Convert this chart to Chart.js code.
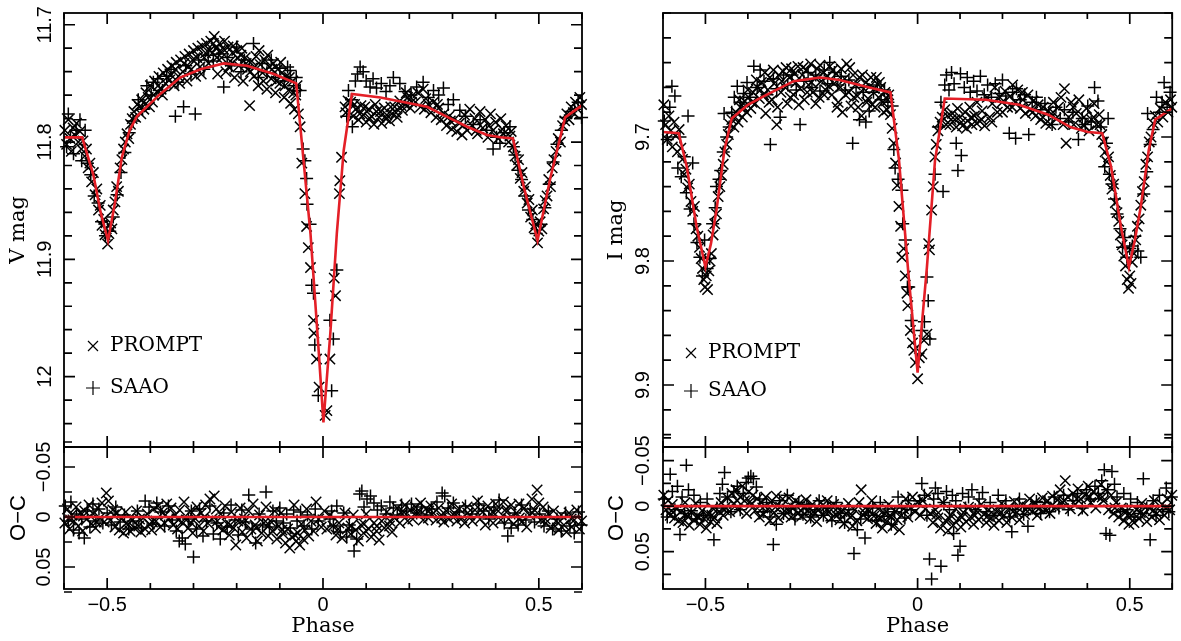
<!DOCTYPE html>
<html>
<head>
<meta charset="utf-8">
<script src="https://cdn.jsdelivr.net/npm/chart.js@4.4.1/dist/chart.umd.min.js"></script>
<style>
  body { margin: 0; background: #fff; }
  canvas { position: absolute; left: 0; top: 0; }
</style>
</head>
<body>
<canvas id="vMain" width="1181" height="641"></canvas>
<canvas id="vRes" width="1181" height="641"></canvas>
<canvas id="iMain" width="1181" height="641"></canvas>
<canvas id="iRes" width="1181" height="641"></canvas>
<script>
// ---- tick values / labels ----
const phaseTicks = [-0.6, -0.5, -0.4, -0.3, -0.2, -0.1, 0, 0.1, 0.2, 0.3, 0.4, 0.5, 0.6];
const phaseLabels = [-0.5, 0, 0.5];
const vMagTicks = [11.70, 11.72, 11.74, 11.76, 11.78, 11.80, 11.82, 11.84, 11.86, 11.88, 11.90, 11.92, 11.94, 11.96, 11.98, 12.00, 12.02, 12.04, 12.06];
const vMagLabels = [11.7, 11.8, 11.9, 12];
const iMagTicks = [9.60, 9.62, 9.64, 9.66, 9.68, 9.70, 9.72, 9.74, 9.76, 9.78, 9.80, 9.82, 9.84, 9.86, 9.88, 9.90, 9.92, 9.94];
const iMagLabels = [9.7, 9.8, 9.9];
const resTicks = [-0.075, -0.05, -0.025, 0, 0.025, 0.05, 0.075];
const resLabels = [-0.05, 0, 0.05];

// ---- V band ----
const vModel = [[-0.6,11.796],[-0.558,11.796],[-0.532,11.828],[-0.515,11.860],[-0.498,11.884],[-0.482,11.852],[-0.466,11.813],[-0.448,11.790],[-0.431,11.778],[-0.377,11.759],[-0.331,11.745],[-0.284,11.738],[-0.230,11.733],[-0.176,11.735],[-0.114,11.742],[-0.062,11.750],[-0.029,11.878],[-0.010,11.978],[0.001,12.039],[0.017,11.963],[0.032,11.878],[0.048,11.807],[0.067,11.759],[0.133,11.762],[0.241,11.770],[0.290,11.779],[0.334,11.787],[0.380,11.794],[0.411,11.796],[0.440,11.797],[0.465,11.838],[0.497,11.884],[0.527,11.830],[0.561,11.779],[0.599,11.769]];

const vPrompt = [[-0.598,11.790],[-0.594,11.802],[-0.590,11.781],[-0.586,11.797],[-0.583,11.808],[-0.579,11.788],[-0.575,11.794],[-0.571,11.784],[-0.567,11.800],[-0.563,11.791],[-0.560,11.806],
[-0.556,11.799],[-0.552,11.812],[-0.548,11.806],[-0.544,11.822],[-0.540,11.818],[-0.536,11.834],[-0.532,11.826],[-0.528,11.845],[-0.524,11.840],[-0.520,11.858],[-0.516,11.854],[-0.512,11.871],[-0.508,11.866],[-0.505,11.879],[-0.502,11.874],[-0.499,11.887],[-0.496,11.878],
[-0.492,11.869],[-0.489,11.874],[-0.486,11.858],[-0.482,11.851],[-0.478,11.838],[-0.474,11.842],[-0.470,11.822],[-0.466,11.815],[-0.462,11.806],[-0.458,11.800],[-0.454,11.793],[-0.450,11.797],[-0.446,11.785],[-0.442,11.780],[-0.438,11.774],[-0.434,11.779],[-0.430,11.768],
[-0.425,11.770],[-0.420,11.764],[-0.415,11.772],[-0.410,11.758],[-0.405,11.762],[-0.400,11.752],[-0.395,11.766],[-0.390,11.748],[-0.385,11.757],[-0.380,11.744],[-0.375,11.755],[-0.370,11.741],[-0.365,11.750],[-0.360,11.738],[-0.355,11.747],[-0.350,11.735],[-0.345,11.752],[-0.340,11.732],[-0.335,11.744],[-0.330,11.730],[-0.325,11.740],[-0.320,11.727],[-0.315,11.748],[-0.310,11.725],[-0.305,11.738],[-0.300,11.722],[-0.295,11.744],[-0.290,11.720],[-0.285,11.736],[-0.280,11.718],[-0.275,11.728],[-0.270,11.716],[-0.265,11.733],[-0.260,11.714],[-0.256,11.724],[-0.252,11.710],[-0.248,11.720],[-0.244,11.742],[-0.240,11.716],[-0.235,11.728],[-0.230,11.721],[-0.225,11.740],[-0.220,11.719],[-0.215,11.731],[-0.210,11.724],[-0.205,11.745],[-0.200,11.722],[-0.195,11.735],[-0.190,11.726],[-0.185,11.748],[-0.180,11.728],[-0.175,11.738],[-0.170,11.769],[-0.165,11.731],[-0.160,11.744],[-0.155,11.727],[-0.150,11.752],[-0.145,11.734],[-0.140,11.741],[-0.135,11.730],[-0.130,11.755],[-0.125,11.736],[-0.120,11.746],[-0.115,11.733],[-0.110,11.758],[-0.105,11.738],[-0.100,11.750],[-0.095,11.741],[-0.090,11.762],[-0.085,11.744],[-0.080,11.756],[-0.075,11.767],[-0.070,11.748],[-0.066,11.772],[-0.063,11.760],
[-0.422,11.776],[-0.412,11.768],[-0.402,11.770],[-0.392,11.760],[-0.382,11.752],[-0.372,11.760],[-0.362,11.745],[-0.352,11.743],[-0.342,11.738],[-0.332,11.750],[-0.322,11.733],[-0.312,11.736],[-0.302,11.730],[-0.292,11.728],[-0.282,11.742],[-0.272,11.724],[-0.262,11.722],[-0.254,11.716],[-0.246,11.728],[-0.238,11.722],[-0.228,11.714],[-0.218,11.736],[-0.208,11.718],[-0.198,11.728],[-0.188,11.720],[-0.178,11.733],[-0.168,11.740],[-0.158,11.736],[-0.148,11.722],[-0.138,11.748],[-0.128,11.726],[-0.118,11.738],[-0.108,11.748],[-0.098,11.732],[-0.088,11.752],[-0.078,11.745],[-0.068,11.758],[-0.060,11.752],
[-0.057,11.776],[-0.053,11.787],[-0.049,11.818],[-0.042,11.844],[-0.038,11.872],[-0.034,11.890],[-0.029,11.907],[-0.022,11.952],[-0.021,11.963],[-0.015,11.985],[-0.009,12.009],[0.005,12.033],[0.009,12.029],[0.016,11.985],[0.026,11.916],[0.029,11.931],[0.038,11.844],[0.039,11.833],[0.043,11.813],[0.051,11.770],[0.053,11.775],[0.058,11.765],
[0.064,11.766],[0.070,11.778],[0.076,11.772],[0.082,11.781],[0.088,11.769],[0.094,11.777],[0.100,11.783],[0.106,11.772],[0.112,11.778],[0.118,11.785],[0.124,11.774],[0.130,11.779],[0.136,11.784],[0.142,11.771],[0.148,11.777],[0.154,11.782],[0.160,11.776],[0.166,11.770],[0.172,11.779],[0.178,11.765],[0.184,11.773],[0.190,11.768],[0.196,11.762],[0.202,11.771],[0.208,11.760],[0.214,11.766],[0.220,11.758],[0.226,11.770],[0.232,11.755],[0.238,11.763],[0.244,11.768],[0.250,11.775],[0.256,11.766],[0.262,11.779],[0.268,11.771],[0.274,11.781],[0.280,11.776],[0.286,11.786],[0.292,11.778],[0.298,11.789],[0.304,11.781],[0.310,11.791],[0.316,11.784],[0.322,11.794],[0.328,11.777],[0.334,11.790],[0.340,11.772],[0.346,11.786],[0.352,11.780],[0.358,11.793],[0.364,11.774],[0.370,11.788],[0.376,11.781],[0.382,11.796],[0.388,11.776],[0.394,11.790],[0.400,11.783],[0.406,11.797],[0.412,11.780],[0.418,11.793],[0.424,11.786],[0.430,11.800],[0.436,11.791],
[0.073,11.768],[0.085,11.776],[0.097,11.770],[0.109,11.780],[0.121,11.768],[0.133,11.774],[0.145,11.780],[0.157,11.770],[0.169,11.775],[0.181,11.769],[0.193,11.758],[0.205,11.766],[0.235,11.772],[0.265,11.768],[0.295,11.782],[0.325,11.786],[0.355,11.790],[0.385,11.786],[0.415,11.789],[0.433,11.795],
[0.441,11.804],[0.445,11.812],[0.449,11.820],[0.453,11.815],[0.457,11.831],[0.461,11.826],[0.465,11.842],[0.469,11.838],[0.473,11.852],[0.477,11.849],[0.481,11.864],[0.485,11.858],[0.489,11.873],[0.493,11.870],[0.497,11.886],[0.500,11.876],[0.503,11.868],[0.507,11.874],[0.511,11.857],[0.515,11.850],[0.519,11.846],[0.523,11.832],[0.527,11.838],[0.531,11.822],[0.535,11.815],[0.540,11.808],[0.545,11.797],[0.550,11.800],[0.555,11.786],[0.560,11.782],
[0.565,11.776],[0.570,11.781],[0.575,11.770],[0.580,11.775],[0.585,11.766],[0.590,11.772],[0.595,11.762],[0.599,11.768]];

const vSaao = [[-0.594,11.804],[-0.590,11.776],[-0.585,11.796],[-0.578,11.810],[-0.572,11.790],[-0.563,11.781],[-0.559,11.816],[-0.551,11.790],[-0.546,11.818],[-0.538,11.828],[-0.530,11.846],[-0.521,11.852],[-0.513,11.868],[-0.504,11.880],[-0.494,11.876],[-0.486,11.864],[-0.477,11.845],[-0.468,11.826],[-0.459,11.809],[-0.449,11.792],[-0.440,11.782],[-0.428,11.764],[-0.418,11.772],[-0.408,11.752],[-0.398,11.760],[-0.393,11.749],[-0.383,11.746],[-0.372,11.756],[-0.362,11.744],[-0.352,11.738],[-0.342,11.778],[-0.336,11.749],[-0.323,11.770],[-0.318,11.735],[-0.306,11.742],[-0.296,11.776],[-0.288,11.730],[-0.276,11.738],[-0.266,11.726],[-0.254,11.731],[-0.242,11.725],[-0.230,11.753],[-0.222,11.728],[-0.212,11.735],[-0.200,11.719],[-0.190,11.740],[-0.182,11.730],[-0.170,11.736],[-0.161,11.716],[-0.150,11.745],[-0.141,11.733],[-0.130,11.741],[-0.120,11.730],[-0.110,11.745],[-0.100,11.737],[-0.090,11.748],[-0.082,11.736],[-0.076,11.739],[-0.068,11.752],[-0.062,11.745],[-0.053,11.756],[-0.046,11.806],[-0.042,11.816],[-0.038,11.831],[-0.037,11.853],[-0.030,11.870],[-0.026,11.922],[-0.022,11.929],[-0.019,11.973],[-0.011,12.016],[0.016,11.952],[0.020,12.012],[0.024,11.968],[0.032,11.909],[0.055,11.778],[0.059,11.756],[0.066,11.764],[0.068,11.787],[0.075,11.748],[0.080,11.742],[0.086,11.736],[0.093,11.740],[0.100,11.748],[0.109,11.753],[0.116,11.746],[0.124,11.754],[0.135,11.750],[0.146,11.757],[0.155,11.752],[0.163,11.745],[0.178,11.750],[0.190,11.757],[0.204,11.760],[0.217,11.753],[0.232,11.749],[0.244,11.762],[0.256,11.756],[0.268,11.760],[0.279,11.754],[0.290,11.768],[0.302,11.764],[0.317,11.773],[0.330,11.778],[0.348,11.785],[0.364,11.781],[0.379,11.790],[0.394,11.806],[0.402,11.796],[0.410,11.801],[0.420,11.792],[0.433,11.787],[0.441,11.804],[0.445,11.811],[0.452,11.824],[0.460,11.832],[0.468,11.846],[0.476,11.858],[0.486,11.866],[0.494,11.878],[0.505,11.870],[0.514,11.856],[0.524,11.836],[0.533,11.817],[0.542,11.802],[0.552,11.790],[0.563,11.779],[0.574,11.774],[0.583,11.772],[0.591,11.766],[0.599,11.779]];

const vResPrompt = [[-0.598,0.006],[-0.592,-0.008],[-0.587,0.012],[-0.582,-0.002],[-0.577,0.004],[-0.572,-0.010],[-0.567,0.009],[-0.562,-0.004],[-0.557,0.014],[-0.552,-0.006],[-0.547,0.002],[-0.542,-0.012],[-0.537,0.007],[-0.532,-0.003],[-0.527,0.011],[-0.522,-0.009],[-0.517,0.001],[-0.512,-0.014],[-0.507,0.005],[-0.502,-0.024],[-0.497,-0.016],[-0.492,0.003],[-0.487,-0.007],[-0.482,0.010],[-0.477,-0.004],[-0.472,0.013],[-0.467,0.002],[-0.462,0.016],[-0.457,-0.005],[-0.452,0.008],[-0.447,0.014],[-0.442,0.003],[-0.437,0.011],[-0.432,-0.006],[-0.427,0.009],[-0.422,0.015],[-0.417,0.001],[-0.412,0.012],[-0.407,-0.003],[-0.402,0.007],[-0.397,0.013],[-0.392,-0.008],[-0.387,0.004],[-0.382,-0.011],[-0.377,0.010],[-0.372,-0.004],[-0.367,0.006],[-0.362,-0.013],[-0.357,0.002],[-0.352,-0.009],[-0.347,0.008],[-0.342,-0.002],[-0.337,0.012],[-0.332,-0.007],[-0.327,0.005],[-0.322,-0.015],[-0.317,0.003],[-0.312,0.011],[-0.307,-0.006],[-0.302,0.016],[-0.297,0.001],[-0.292,-0.010],[-0.287,0.009],[-0.282,-0.004],[-0.277,0.014],[-0.272,-0.012],[-0.267,0.006],[-0.262,-0.018],[-0.257,0.002],[-0.252,-0.021],[-0.247,-0.008],[-0.242,0.010],[-0.237,-0.003],[-0.232,0.013],[-0.227,-0.011],[-0.222,0.007],[-0.217,0.018],[-0.212,-0.005],[-0.207,0.011],[-0.202,0.028],[-0.197,0.004],[-0.192,-0.009],[-0.187,0.015],[-0.182,0.002],[-0.177,0.021],[-0.172,-0.006],[-0.167,0.012],[-0.162,-0.013],[-0.157,0.008],[-0.152,0.024],[-0.147,-0.002],[-0.142,0.016],[-0.137,0.006],[-0.132,-0.010],[-0.127,0.019],[-0.122,0.004],[-0.117,0.014],[-0.112,-0.006],[-0.107,0.022],[-0.102,0.009],[-0.097,-0.004],[-0.092,0.017],[-0.087,0.026],[-0.082,0.012],[-0.077,0.031],[-0.072,0.020],[-0.067,-0.012],[-0.062,0.024],[-0.058,0.016],[-0.054,0.028],[-0.050,0.007],[-0.046,0.022],[-0.042,0.013],[-0.038,-0.008],[-0.033,0.019],[-0.028,0.004],[-0.022,0.014],[-0.016,-0.015],[-0.010,0.002],[-0.004,0.010],[0.003,-0.006],[0.009,0.012],[0.016,-0.002],[0.023,0.009],[0.030,0.018],[0.037,0.006],[0.044,0.021],[0.051,-0.004],[0.058,0.011],[0.064,0.017],[0.070,-0.002],[0.076,0.013],[0.082,0.024],[0.088,0.008],[0.094,0.016],[0.100,-0.003],[0.106,0.012],[0.112,0.020],[0.118,0.006],[0.124,0.014],[0.130,0.023],[0.136,0.004],[0.142,0.011],[0.148,-0.005],[0.154,0.009],[0.160,0.015],[0.166,0.001],[0.172,-0.009],[0.178,0.006],[0.184,-0.003],[0.190,-0.012],[0.196,0.004],[0.202,-0.007],[0.208,0.002],[0.214,-0.010],[0.220,-0.004],[0.226,-0.014],[0.232,0.003],[0.238,-0.008],[0.244,0.001],[0.250,-0.011],[0.256,-0.004],[0.262,0.003],[0.268,-0.009],[0.274,-0.002],[0.280,0.005],[0.286,-0.006],[0.292,0.002],[0.298,-0.013],[0.304,-0.004],[0.310,0.004],[0.316,-0.008],[0.322,0.001],[0.328,0.006],[0.334,-0.010],[0.340,-0.002],[0.346,0.004],[0.352,-0.007],[0.358,-0.016],[0.364,0.002],[0.370,-0.005],[0.376,0.008],[0.382,-0.011],[0.388,-0.003],[0.394,0.006],[0.400,-0.013],[0.406,-0.006],[0.412,0.003],[0.418,-0.015],[0.424,-0.008],[0.430,0.002],[0.436,-0.012],[0.442,0.007],[0.448,-0.004],[0.454,-0.013],[0.460,0.005],[0.466,-0.009],[0.472,0.010],[0.478,-0.002],[0.484,-0.018],[0.490,-0.007],[0.496,-0.027],[0.500,-0.014],[0.504,0.003],[0.510,-0.010],[0.516,0.006],[0.522,-0.003],[0.528,0.011],[0.534,-0.006],[0.540,0.004],[0.546,0.013],[0.552,-0.002],[0.558,0.008],[0.564,0.015],[0.570,-0.004],[0.576,0.010],[0.582,0.003],[0.588,-0.007],[0.594,0.012],[0.599,0.004],
[-0.585,0.003],[-0.555,-0.001],[-0.525,0.005],[-0.485,-0.002],[-0.455,0.006],[-0.425,0.002],[-0.395,0.005],[-0.365,-0.002],[-0.335,0.003],[-0.305,0.006],[-0.275,0.000],[-0.245,0.004],[-0.215,0.008],[-0.185,0.006],[-0.155,0.011],[-0.125,0.008],[-0.095,0.013],[-0.065,0.018],[0.035,0.012],[0.065,0.009],[0.095,0.007],[0.125,0.009],[0.155,0.004],[0.185,-0.006],[0.215,-0.004],[0.245,-0.006],[0.275,0.001],[0.305,-0.001],[0.335,-0.004],[0.365,-0.007],[0.395,-0.004],[0.425,-0.005],[0.455,0.001],[0.485,-0.004],[0.515,0.002],[0.545,0.006],[0.575,0.002]];

const vResSaao = [[-0.597,-0.011],[-0.590,0.004],[-0.584,-0.015],[-0.578,0.013],[-0.571,-0.003],[-0.565,0.016],[-0.559,0.002],[-0.553,0.021],[-0.546,-0.006],[-0.540,0.010],[-0.533,-0.013],[-0.526,0.004],[-0.519,-0.008],[-0.510,0.006],[-0.500,-0.004],[-0.490,0.008],[-0.480,-0.010],[-0.470,0.005],[-0.460,-0.002],[-0.450,0.012],[-0.440,0.004],[-0.430,-0.006],[-0.421,0.011],[-0.412,-0.016],[-0.403,-0.010],[-0.394,0.007],[-0.385,-0.014],[-0.376,-0.005],[-0.367,0.009],[-0.358,-0.011],[-0.349,0.003],[-0.340,0.014],[-0.333,0.024],[-0.326,0.021],[-0.319,0.027],[-0.312,0.002],[-0.305,-0.006],[-0.300,0.040],[-0.293,0.012],[-0.286,-0.008],[-0.278,0.019],[-0.270,0.004],[-0.262,-0.011],[-0.254,0.017],[-0.246,0.006],[-0.238,0.022],[-0.230,-0.004],[-0.222,0.010],[-0.213,-0.012],[-0.204,0.003],[-0.196,0.018],[-0.188,-0.007],[-0.180,0.005],[-0.172,-0.022],[-0.164,0.012],[-0.156,0.026],[-0.148,-0.003],[-0.140,0.008],[-0.132,-0.025],[-0.124,0.010],[-0.116,-0.006],[-0.108,0.004],[-0.100,-0.009],[-0.092,0.006],[-0.084,-0.003],[-0.076,0.011],[-0.068,-0.007],[-0.060,0.004],[-0.052,-0.005],[-0.044,0.009],[-0.036,-0.002],[-0.026,0.012],[-0.018,-0.008],[-0.011,0.004],[0.016,0.002],[0.020,-0.006],[0.024,0.009],[0.032,-0.011],[0.040,0.015],[0.048,-0.004],[0.055,0.020],[0.061,0.008],[0.067,0.013],[0.072,0.034],[0.078,0.022],[0.085,-0.023],[0.090,-0.026],[0.095,-0.010],[0.102,-0.018],[0.110,-0.021],[0.118,-0.014],[0.126,-0.007],[0.135,-0.011],[0.146,-0.003],[0.155,-0.015],[0.163,-0.009],[0.172,-0.002],[0.182,-0.012],[0.193,-0.006],[0.205,-0.013],[0.217,-0.004],[0.228,-0.010],[0.240,-0.002],[0.252,-0.008],[0.264,-0.015],[0.276,-0.024],[0.282,-0.021],[0.290,-0.009],[0.302,-0.014],[0.316,-0.005],[0.330,-0.011],[0.345,-0.003],[0.360,-0.013],[0.372,-0.006],[0.384,0.002],[0.396,-0.010],[0.408,-0.017],[0.420,0.006],[0.428,0.019],[0.436,0.011],[0.444,-0.004],[0.452,0.008],[0.460,-0.012],[0.470,0.003],[0.480,-0.008],[0.490,0.005],[0.502,-0.003],[0.512,0.009],[0.522,-0.006],[0.532,0.012],[0.542,0.002],[0.552,0.014],[0.562,-0.004],[0.572,0.009],[0.582,0.016],[0.592,-0.005],[0.598,0.008]];

// ---- I band ----
const iModel = [[-0.6,9.696],[-0.563,9.697],[-0.544,9.724],[-0.521,9.772],[-0.500,9.805],[-0.487,9.786],[-0.474,9.759],[-0.455,9.710],[-0.438,9.685],[-0.400,9.674],[-0.362,9.667],[-0.292,9.655],[-0.230,9.652],[-0.184,9.654],[-0.114,9.660],[-0.064,9.664],[-0.044,9.718],[-0.021,9.813],[0.000,9.890],[0.022,9.805],[0.041,9.719],[0.064,9.669],[0.161,9.670],[0.239,9.674],[0.308,9.682],[0.360,9.692],[0.401,9.696],[0.435,9.697],[0.456,9.724],[0.479,9.772],[0.498,9.805],[0.512,9.783],[0.526,9.756],[0.545,9.710],[0.560,9.686],[0.599,9.677]];

const iPrompt = [[-0.598,9.674],[-0.594,9.690],[-0.590,9.702],[-0.586,9.683],[-0.582,9.695],[-0.578,9.708],[-0.574,9.688],[-0.570,9.699],[-0.566,9.712],[-0.562,9.694],[-0.558,9.709],[-0.554,9.718],[-0.550,9.730],[-0.546,9.726],[-0.542,9.741],[-0.538,9.738],[-0.534,9.752],[-0.530,9.760],[-0.526,9.756],[-0.522,9.774],[-0.518,9.780],[-0.514,9.789],[-0.510,9.798],[-0.507,9.806],[-0.504,9.815],[-0.501,9.821],[-0.498,9.812],[-0.495,9.823],[-0.492,9.808],[-0.489,9.800],[-0.486,9.794],[-0.482,9.779],[-0.478,9.770],[-0.474,9.762],[-0.470,9.748],[-0.466,9.740],[-0.462,9.731],[-0.458,9.722],[-0.454,9.712],[-0.450,9.706],[-0.446,9.698],[-0.442,9.690],[-0.438,9.686],[-0.433,9.692],[-0.428,9.680],[-0.423,9.688],[-0.418,9.676],[-0.413,9.684],[-0.408,9.671],[-0.403,9.680],[-0.398,9.668],[-0.393,9.677],[-0.388,9.664],[-0.383,9.673],[-0.378,9.660],[-0.373,9.669],[-0.368,9.656],[-0.363,9.666],[-0.358,9.681],[-0.353,9.662],[-0.348,9.652],[-0.343,9.670],[-0.338,9.657],[-0.332,9.690],[-0.327,9.650],[-0.322,9.664],[-0.317,9.647],[-0.312,9.660],[-0.307,9.673],[-0.302,9.652],[-0.297,9.645],[-0.292,9.666],[-0.287,9.656],[-0.282,9.643],[-0.277,9.661],[-0.272,9.650],[-0.267,9.670],[-0.262,9.646],[-0.257,9.658],[-0.252,9.641],[-0.247,9.664],[-0.242,9.652],[-0.237,9.645],[-0.232,9.668],[-0.227,9.655],[-0.222,9.648],[-0.217,9.662],[-0.212,9.651],[-0.207,9.643],[-0.202,9.666],[-0.197,9.657],[-0.192,9.649],[-0.187,9.672],[-0.182,9.660],[-0.177,9.680],[-0.172,9.653],[-0.167,9.641],[-0.162,9.664],[-0.157,9.675],[-0.152,9.650],[-0.147,9.658],[-0.142,9.667],[-0.137,9.652],[-0.132,9.683],[-0.127,9.661],[-0.122,9.656],[-0.117,9.669],[-0.112,9.659],[-0.107,9.674],[-0.102,9.661],[-0.097,9.652],[-0.092,9.668],[-0.087,9.660],[-0.082,9.672],[-0.077,9.664],[-0.072,9.678],[-0.068,9.666],[-0.064,9.682],
[-0.430,9.684],[-0.420,9.670],[-0.410,9.676],[-0.400,9.662],[-0.390,9.672],[-0.380,9.654],[-0.370,9.662],[-0.360,9.648],[-0.350,9.672],[-0.340,9.646],[-0.330,9.676],[-0.320,9.655],[-0.310,9.644],[-0.300,9.668],[-0.290,9.649],[-0.280,9.674],[-0.270,9.644],[-0.260,9.664],[-0.250,9.656],[-0.240,9.673],[-0.230,9.642],[-0.220,9.666],[-0.210,9.659],[-0.200,9.646],[-0.190,9.676],[-0.180,9.645],[-0.170,9.666],[-0.160,9.644],[-0.150,9.668],[-0.140,9.676],[-0.130,9.650],[-0.120,9.672],[-0.110,9.652],[-0.100,9.676],[-0.090,9.656],[-0.080,9.680],[-0.070,9.670],
[-0.060,9.693],[-0.056,9.705],[-0.052,9.721],[-0.048,9.739],[-0.044,9.756],[-0.040,9.772],[-0.037,9.797],[-0.033,9.790],[-0.029,9.812],[-0.025,9.826],[-0.023,9.836],[-0.017,9.856],[-0.012,9.866],[-0.009,9.872],[-0.005,9.882],[0.000,9.895],[0.004,9.878],[0.010,9.875],[0.015,9.864],[0.022,9.859],[0.026,9.786],[0.028,9.791],[0.033,9.759],[0.037,9.740],[0.041,9.716],[0.044,9.706],[0.048,9.695],[0.053,9.688],[0.058,9.684],[0.064,9.678],[0.070,9.683],[0.076,9.690],[0.082,9.681],[0.088,9.686],[0.094,9.677],[0.100,9.684],[0.106,9.691],[0.112,9.680],[0.118,9.687],[0.123,9.676],[0.128,9.690],[0.134,9.683],[0.140,9.672],[0.146,9.687],[0.152,9.679],[0.158,9.691],[0.164,9.668],[0.170,9.684],[0.176,9.673],[0.182,9.660],[0.188,9.680],[0.194,9.668],[0.200,9.680],[0.206,9.663],[0.212,9.676],[0.218,9.667],[0.224,9.658],[0.230,9.672],[0.236,9.662],[0.242,9.677],[0.248,9.670],[0.254,9.681],[0.260,9.666],[0.266,9.678],[0.272,9.671],[0.278,9.683],[0.284,9.674],[0.290,9.686],[0.296,9.676],[0.302,9.689],[0.308,9.679],[0.314,9.690],[0.320,9.672],[0.326,9.685],[0.332,9.676],[0.338,9.668],[0.346,9.661],[0.350,9.705],[0.356,9.684],[0.362,9.672],[0.368,9.690],[0.374,9.681],[0.380,9.670],[0.386,9.693],[0.392,9.684],[0.398,9.677],[0.404,9.695],[0.410,9.686],[0.416,9.673],[0.422,9.690],[0.428,9.682],[0.434,9.698],
[0.067,9.690],[0.079,9.686],[0.091,9.692],[0.103,9.688],[0.115,9.693],[0.127,9.684],[0.139,9.689],[0.151,9.686],[0.175,9.688],[0.199,9.672],[0.223,9.676],[0.247,9.664],[0.271,9.680],[0.295,9.684],[0.319,9.680],[0.343,9.690],[0.367,9.676],[0.391,9.690],[0.415,9.684],[0.430,9.690],
[0.438,9.704],[0.442,9.712],[0.446,9.720],[0.450,9.716],[0.454,9.731],[0.458,9.742],[0.462,9.738],[0.466,9.753],[0.470,9.761],[0.474,9.768],[0.478,9.779],[0.482,9.787],[0.486,9.796],[0.490,9.804],[0.494,9.815],[0.497,9.822],[0.500,9.812],[0.503,9.818],[0.506,9.801],[0.510,9.794],[0.514,9.783],[0.518,9.772],[0.522,9.766],[0.526,9.755],[0.530,9.744],[0.534,9.736],[0.538,9.722],[0.542,9.716],[0.546,9.704],[0.550,9.700],[0.555,9.689],[0.560,9.683],[0.566,9.688],[0.572,9.677],[0.578,9.684],[0.584,9.672],[0.590,9.680],[0.596,9.670],[0.599,9.676]];

const iSaao = [[-0.597,9.687],[-0.590,9.702],[-0.584,9.676],[-0.579,9.659],[-0.572,9.667],[-0.565,9.725],[-0.560,9.700],[-0.557,9.732],[-0.550,9.716],[-0.545,9.745],[-0.541,9.683],[-0.536,9.758],[-0.530,9.721],[-0.527,9.770],[-0.520,9.785],[-0.513,9.797],[-0.507,9.812],[-0.502,9.783],[-0.496,9.806],[-0.490,9.798],[-0.483,9.770],[-0.477,9.757],[-0.474,9.740],[-0.468,9.734],[-0.464,9.727],[-0.458,9.712],[-0.456,9.681],[-0.450,9.700],[-0.444,9.692],[-0.438,9.680],[-0.432,9.668],[-0.425,9.659],[-0.418,9.672],[-0.410,9.665],[-0.402,9.656],[-0.395,9.668],[-0.386,9.643],[-0.378,9.660],[-0.371,9.646],[-0.362,9.655],[-0.355,9.666],[-0.347,9.706],[-0.340,9.653],[-0.332,9.661],[-0.324,9.684],[-0.316,9.650],[-0.306,9.658],[-0.296,9.650],[-0.286,9.662],[-0.277,9.690],[-0.268,9.655],[-0.258,9.648],[-0.249,9.660],[-0.240,9.650],[-0.230,9.663],[-0.220,9.646],[-0.212,9.657],[-0.207,9.640],[-0.196,9.648],[-0.188,9.658],[-0.180,9.651],[-0.170,9.662],[-0.162,9.654],[-0.153,9.705],[-0.145,9.660],[-0.137,9.686],[-0.128,9.664],[-0.122,9.688],[-0.114,9.679],[-0.104,9.664],[-0.095,9.658],[-0.086,9.670],[-0.078,9.662],[-0.070,9.672],[-0.060,9.675],[-0.056,9.710],[-0.053,9.725],[-0.046,9.734],[-0.037,9.743],[-0.035,9.770],[-0.029,9.783],[-0.024,9.821],[-0.021,9.821],[-0.015,9.848],[0.010,9.856],[0.016,9.849],[0.022,9.813],[0.025,9.832],[0.029,9.863],[0.041,9.730],[0.049,9.692],[0.055,9.672],[0.060,9.744],[0.064,9.658],[0.068,9.650],[0.074,9.662],[0.080,9.648],[0.086,9.657],[0.091,9.705],[0.095,9.727],[0.101,9.649],[0.103,9.715],[0.110,9.660],[0.117,9.652],[0.124,9.664],[0.132,9.655],[0.140,9.663],[0.148,9.651],[0.157,9.666],[0.165,9.658],[0.174,9.668],[0.183,9.657],[0.192,9.665],[0.200,9.654],[0.208,9.667],[0.216,9.697],[0.224,9.664],[0.231,9.701],[0.233,9.661],[0.242,9.670],[0.252,9.666],[0.262,9.698],[0.270,9.672],[0.280,9.668],[0.290,9.678],[0.300,9.673],[0.309,9.682],[0.317,9.690],[0.326,9.676],[0.336,9.685],[0.346,9.678],[0.356,9.688],[0.366,9.680],[0.379,9.702],[0.388,9.685],[0.395,9.690],[0.401,9.675],[0.409,9.688],[0.417,9.660],[0.425,9.671],[0.432,9.692],[0.441,9.724],[0.445,9.705],[0.449,9.685],[0.452,9.730],[0.458,9.738],[0.464,9.750],[0.470,9.762],[0.477,9.774],[0.483,9.789],[0.488,9.781],[0.493,9.797],[0.500,9.790],[0.506,9.788],[0.512,9.780],[0.519,9.792],[0.526,9.797],[0.533,9.746],[0.540,9.728],[0.542,9.681],[0.548,9.706],[0.555,9.694],[0.563,9.668],[0.570,9.680],[0.576,9.672],[0.581,9.656],[0.588,9.676],[0.595,9.664]];

const iResPrompt = [[-0.598,-0.012],[-0.593,0.004],[-0.588,-0.006],[-0.583,0.010],[-0.578,-0.002],[-0.573,0.013],[-0.568,0.003],[-0.563,0.016],[-0.558,0.006],[-0.553,0.018],[-0.548,-0.004],[-0.543,0.011],[-0.538,0.021],[-0.533,0.007],[-0.528,0.015],[-0.523,-0.003],[-0.518,0.012],[-0.513,0.020],[-0.508,0.005],[-0.503,0.014],[-0.498,0.024],[-0.493,0.009],[-0.488,0.017],[-0.483,0.002],[-0.478,0.013],[-0.473,0.019],[-0.468,0.006],[-0.463,-0.004],[-0.458,0.010],[-0.453,0.001],[-0.448,-0.009],[-0.443,0.006],[-0.438,-0.014],[-0.433,-0.003],[-0.428,-0.018],[-0.423,0.004],[-0.418,-0.010],[-0.413,-0.022],[-0.408,-0.006],[-0.403,0.008],[-0.398,-0.016],[-0.393,-0.002],[-0.388,-0.012],[-0.383,0.005],[-0.378,-0.008],[-0.373,0.012],[-0.368,-0.004],[-0.363,0.009],[-0.358,-0.010],[-0.353,0.003],[-0.348,0.016],[-0.343,-0.006],[-0.338,0.007],[-0.333,-0.011],[-0.328,0.013],[-0.323,0.001],[-0.318,-0.008],[-0.313,0.010],[-0.308,0.003],[-0.303,-0.009],[-0.298,0.012],[-0.293,0.002],[-0.288,-0.006],[-0.283,0.008],[-0.278,-0.003],[-0.273,0.011],[-0.268,0.002],[-0.263,-0.007],[-0.258,0.005],[-0.253,0.014],[-0.248,-0.002],[-0.243,0.008],[-0.238,0.017],[-0.233,0.004],[-0.228,-0.004],[-0.223,0.010],[-0.218,0.001],[-0.213,-0.006],[-0.208,0.006],[-0.203,0.013],[-0.198,-0.002],[-0.193,0.009],[-0.188,0.002],[-0.183,0.015],[-0.178,0.006],[-0.173,0.019],[-0.168,0.008],[-0.163,-0.003],[-0.158,0.012],[-0.153,0.022],[-0.148,0.004],[-0.143,0.016],[-0.138,-0.004],[-0.133,-0.018],[-0.128,0.010],[-0.123,0.002],[-0.118,0.014],[-0.113,0.005],[-0.108,-0.006],[-0.103,0.011],[-0.098,0.019],[-0.093,0.003],[-0.088,0.013],[-0.083,0.024],[-0.078,0.008],[-0.073,0.017],[-0.068,-0.002],[-0.063,0.012],[-0.058,0.022],[-0.053,0.006],[-0.048,0.015],[-0.043,0.026],[-0.038,0.010],[-0.033,0.003],[-0.028,-0.008],[-0.023,0.012],[-0.017,0.002],[-0.012,-0.010],[-0.006,0.006],[0.000,-0.004],[0.006,0.010],[0.012,-0.006],[0.018,0.003],[0.024,-0.012],[0.030,0.008],[0.036,0.018],[0.042,0.004],[0.048,0.013],[0.054,0.024],[0.060,-0.004],[0.066,0.016],[0.072,0.027],[0.078,0.010],[0.084,0.021],[0.090,0.003],[0.096,0.014],[0.102,0.023],[0.108,0.007],[0.114,0.017],[0.120,0.001],[0.126,0.012],[0.132,0.020],[0.138,0.005],[0.144,0.015],[0.150,-0.002],[0.156,0.009],[0.162,0.018],[0.168,0.004],[0.174,0.013],[0.180,0.021],[0.186,0.006],[0.192,0.016],[0.198,-0.003],[0.204,0.010],[0.210,0.018],[0.216,0.002],[0.222,0.012],[0.228,-0.005],[0.234,0.007],[0.240,0.015],[0.246,-0.002],[0.252,0.009],[0.258,0.001],[0.264,-0.008],[0.270,0.006],[0.276,-0.004],[0.282,0.010],[0.288,0.002],[0.294,-0.009],[0.300,0.004],[0.306,-0.006],[0.312,0.008],[0.318,-0.011],[0.324,0.001],[0.330,-0.007],[0.336,-0.018],[0.342,-0.004],[0.348,-0.028],[0.354,-0.010],[0.360,0.003],[0.366,-0.014],[0.372,-0.002],[0.378,-0.019],[0.384,-0.008],[0.390,0.005],[0.396,-0.012],[0.402,-0.022],[0.408,-0.004],[0.414,-0.016],[0.420,0.002],[0.426,-0.010],[0.432,-0.024],[0.438,-0.006],[0.444,-0.018],[0.450,0.004],[0.456,-0.012],[0.462,0.008],[0.468,-0.004],[0.474,0.012],[0.480,0.002],[0.486,0.016],[0.492,0.006],[0.498,0.020],[0.504,0.010],[0.510,0.018],[0.516,0.004],[0.522,0.014],[0.528,-0.003],[0.534,0.009],[0.540,0.017],[0.546,0.002],[0.552,0.012],[0.558,-0.006],[0.564,0.008],[0.570,0.015],[0.576,-0.002],[0.582,0.010],[0.588,-0.008],[0.594,0.004],[0.599,-0.012],
[-0.580,0.005],[-0.545,0.009],[-0.515,0.012],[-0.485,0.010],[-0.455,0.004],[-0.425,-0.006],[-0.395,-0.005],[-0.365,0.002],[-0.335,0.001],[-0.305,0.004],[-0.275,0.005],[-0.245,0.006],[-0.215,0.004],[-0.185,0.008],[-0.155,0.010],[-0.125,0.007],[-0.095,0.012],[-0.065,0.010],[0.045,0.009],[0.075,0.014],[0.105,0.012],[0.135,0.010],[0.165,0.011],[0.195,0.008],[0.225,0.006],[0.255,0.004],[0.285,0.003],[0.315,0.000],[0.345,-0.006],[0.375,-0.008],[0.405,-0.010],[0.435,-0.010],[0.465,0.002],[0.495,0.010],[0.525,0.007],[0.555,0.005],[0.585,0.002]];

const iResSaao = [[-0.597,-0.008],[-0.590,0.012],[-0.583,-0.035],[-0.578,-0.016],[-0.572,0.004],[-0.566,-0.022],[-0.560,0.031],[-0.555,-0.010],[-0.549,0.008],[-0.545,-0.045],[-0.540,-0.018],[-0.533,0.005],[-0.527,-0.012],[-0.520,0.014],[-0.512,-0.004],[-0.504,0.010],[-0.496,-0.008],[-0.488,0.012],[-0.480,0.037],[-0.473,0.002],[-0.466,-0.014],[-0.460,-0.024],[-0.455,-0.037],[-0.448,-0.010],[-0.440,0.006],[-0.433,-0.016],[-0.425,-0.022],[-0.418,0.004],[-0.411,-0.014],[-0.404,-0.026],[-0.399,-0.031],[-0.393,-0.033],[-0.387,-0.030],[-0.380,-0.021],[-0.372,-0.008],[-0.364,0.006],[-0.356,-0.004],[-0.348,0.012],[-0.340,0.042],[-0.333,0.020],[-0.325,-0.006],[-0.316,0.008],[-0.307,-0.012],[-0.298,0.003],[-0.289,0.014],[-0.280,-0.004],[-0.270,0.009],[-0.261,-0.002],[-0.252,0.012],[-0.242,0.004],[-0.232,-0.006],[-0.222,0.010],[-0.212,0.002],[-0.202,0.016],[-0.192,-0.004],[-0.182,0.008],[-0.172,0.018],[-0.162,0.004],[-0.150,0.052],[-0.142,0.026],[-0.134,0.014],[-0.124,0.035],[-0.116,0.010],[-0.106,0.002],[-0.097,0.016],[-0.088,-0.004],[-0.079,0.011],[-0.070,0.003],[-0.062,0.020],[-0.054,0.006],[-0.046,-0.010],[-0.038,0.002],[-0.030,0.013],[-0.022,-0.006],[-0.015,0.004],[0.005,-0.006],[0.010,-0.025],[0.016,-0.012],[0.022,0.010],[0.028,0.058],[0.033,0.080],[0.038,-0.008],[0.042,-0.020],[0.048,-0.014],[0.055,0.066],[0.062,-0.004],[0.068,-0.016],[0.075,0.004],[0.082,-0.012],[0.085,0.030],[0.090,-0.006],[0.095,0.054],[0.100,0.044],[0.106,-0.014],[0.113,0.002],[0.120,-0.010],[0.128,-0.018],[0.136,0.004],[0.145,-0.008],[0.153,-0.015],[0.162,0.006],[0.171,-0.004],[0.180,0.010],[0.190,-0.012],[0.199,0.002],[0.208,-0.006],[0.217,0.012],[0.222,0.028],[0.230,0.004],[0.240,-0.008],[0.250,0.009],[0.260,0.022],[0.270,0.002],[0.280,-0.005],[0.290,0.008],[0.300,-0.004],[0.311,0.006],[0.322,-0.010],[0.333,0.002],[0.344,-0.012],[0.355,0.004],[0.366,-0.006],[0.377,-0.014],[0.388,0.002],[0.398,-0.018],[0.408,-0.008],[0.418,-0.022],[0.426,-0.014],[0.434,-0.028],[0.440,-0.040],[0.444,0.030],[0.448,-0.018],[0.453,0.032],[0.458,-0.038],[0.464,-0.024],[0.470,-0.010],[0.478,0.006],[0.486,-0.014],[0.494,0.004],[0.502,-0.008],[0.510,0.012],[0.518,-0.004],[0.526,0.008],[0.532,-0.030],[0.540,0.002],[0.548,0.037],[0.555,-0.006],[0.562,0.010],[0.570,-0.012],[0.578,0.004],[0.586,-0.020],[0.592,0.006],[0.598,-0.010]];

const zeroLine = [[-0.6, 0], [0.6, 0]];

// ---- drawing ----
const RED = '#e41f27';
const SANS = '"Liberation Sans", Arial, sans-serif';
const SERIF = '"DejaVu Serif", "Liberation Serif", serif';
const pts = a => a.map(p => ({x: p[0], y: p[1]}));
const fmt = v => String(v).replace('-', '\u2212');
const near = (list, v) => list.some(l => Math.abs(l - v) < 1e-9);

function vText(ctx, s, x, y) {
  ctx.save();
  ctx.translate(x, y);
  ctx.rotate(-Math.PI / 2);
  ctx.textAlign = 'center';
  ctx.textBaseline = 'middle';
  ctx.fillText(s, 0, 0);
  ctx.restore();
}

// PGPLOT-like box: frame, inward ticks on all sides, rotated y labels
const pgBox = {
  id: 'pgBox',
  afterDraw(chart, args, o) {
    const {ctx, chartArea: a} = chart;
    const sx = chart.scales.x, sy = chart.scales.y;
    ctx.save();
    ctx.strokeStyle = '#000';
    ctx.fillStyle = '#000';
    ctx.lineWidth = 1.7;
    ctx.beginPath();
    phaseTicks.forEach(v => {
      const px = sx.getPixelForValue(v);
      const len = near(phaseLabels, v) ? 11 : 6;
      ctx.moveTo(px, a.top); ctx.lineTo(px, a.top + len);
      ctx.moveTo(px, a.bottom); ctx.lineTo(px, a.bottom - len);
    });
    o.yTicks.forEach(v => {
      const py = sy.getPixelForValue(v);
      const len = near(o.yLabels, v) ? 11 : 8;
      ctx.moveTo(a.left, py); ctx.lineTo(a.left + len, py);
      ctx.moveTo(a.right, py); ctx.lineTo(a.right - len, py);
    });
    ctx.stroke();
    ctx.lineWidth = 1.8;
    ctx.strokeRect(a.left, a.top, a.right - a.left, a.bottom - a.top);

    ctx.font = '20px ' + SANS;
    o.yLabels.forEach(v => vText(ctx, fmt(v), o.labelX, sy.getPixelForValue(v)));

    if (o.titleFont === 'serif') ctx.font = '21px ' + SERIF;
    else ctx.font = '22px ' + SANS;
    vText(ctx, o.title, o.titleX, (a.top + a.bottom) / 2);

    if (o.phaseAxis) {
      ctx.font = '20px ' + SANS;
      ctx.textAlign = 'center';
      ctx.textBaseline = 'middle';
      phaseLabels.forEach(v => ctx.fillText(fmt(v), sx.getPixelForValue(v), 605));
      ctx.font = '21px ' + SERIF;
      ctx.fillText('Phase', (a.left + a.right) / 2, 627);
    }

    if (o.legend) {
      const g = o.legend;
      ctx.lineWidth = 1.2;
      ctx.beginPath();
      ctx.moveTo(g.x - 5, g.y1 - 5); ctx.lineTo(g.x + 5, g.y1 + 5);
      ctx.moveTo(g.x - 5, g.y1 + 5); ctx.lineTo(g.x + 5, g.y1 - 5);
      ctx.moveTo(g.x - 7, g.y2); ctx.lineTo(g.x + 7, g.y2);
      ctx.moveTo(g.x, g.y2 - 7); ctx.lineTo(g.x, g.y2 + 7);
      ctx.stroke();
      ctx.font = '20px ' + SERIF;
      ctx.textAlign = 'left';
      ctx.textBaseline = 'middle';
      ctx.fillText('PROMPT', g.x + 17, g.y1);
      ctx.fillText('SAAO', g.x + 17, g.y2);
    }
    ctx.restore();
  }
};

function datasets(model, prompt, saao) {
  return [
    {label: 'model', data: pts(model), showLine: true, borderColor: RED, borderWidth: 2.6,
     pointRadius: 0, tension: 0, order: 0, clip: false},
    {label: 'SAAO', data: pts(saao), pointStyle: 'cross', pointRadius: 6.5,
     pointBorderColor: '#000', pointBackgroundColor: '#000', pointBorderWidth: 1.5, order: 1, clip: false},
    {label: 'PROMPT', data: pts(prompt), pointStyle: 'crossRot', pointRadius: 7.3,
     pointBorderColor: '#000', pointBackgroundColor: '#000', pointBorderWidth: 1.5, order: 2, clip: false}
  ];
}

function panel(id, sets, area, yMin, yMax, box) {
  return new Chart(document.getElementById(id), {
    type: 'scatter',
    data: {datasets: sets},
    options: {
      responsive: false,
      animation: false,
      devicePixelRatio: 1,
      layout: {padding: {left: area[0], top: area[1], right: 1181 - area[2], bottom: 641 - area[3]}},
      plugins: {legend: {display: false}, tooltip: {enabled: false}, pgBox: box},
      scales: {
        x: {type: 'linear', display: false, min: -0.6, max: 0.6},
        y: {type: 'linear', display: false, min: yMin, max: yMax, reverse: true}
      }
    },
    plugins: [pgBox]
  });
}

panel('vMain', datasets(vModel, vPrompt, vSaao), [64, 13, 582, 447], 11.69, 12.06,
  {yTicks: vMagTicks, yLabels: vMagLabels, labelX: 45, title: 'V mag', titleFont: 'serif', titleX: 19,
   legend: {x: 93, y1: 346, y2: 388}});
panel('vRes', datasets(zeroLine, vResPrompt, vResSaao), [64, 447, 582, 589], -0.07, 0.072,
  {yTicks: resTicks, yLabels: resLabels, labelX: 44, title: 'O\u2212C', titleFont: 'sans', titleX: 19, phaseAxis: true});
panel('iMain', datasets(iModel, iPrompt, iSaao), [663, 13, 1178, 447], 9.6, 9.95,
  {yTicks: iMagTicks, yLabels: iMagLabels, labelX: 643, title: 'I mag', titleFont: 'serif', titleX: 617,
   legend: {x: 691, y1: 353, y2: 391}});
panel('iRes', datasets(zeroLine, iResPrompt, iResSaao), [663, 447, 1178, 589], -0.065, 0.091,
  {yTicks: resTicks, yLabels: resLabels, labelX: 643, title: 'O\u2212C', titleFont: 'sans', titleX: 617, phaseAxis: true});
</script>
</body>
</html>
